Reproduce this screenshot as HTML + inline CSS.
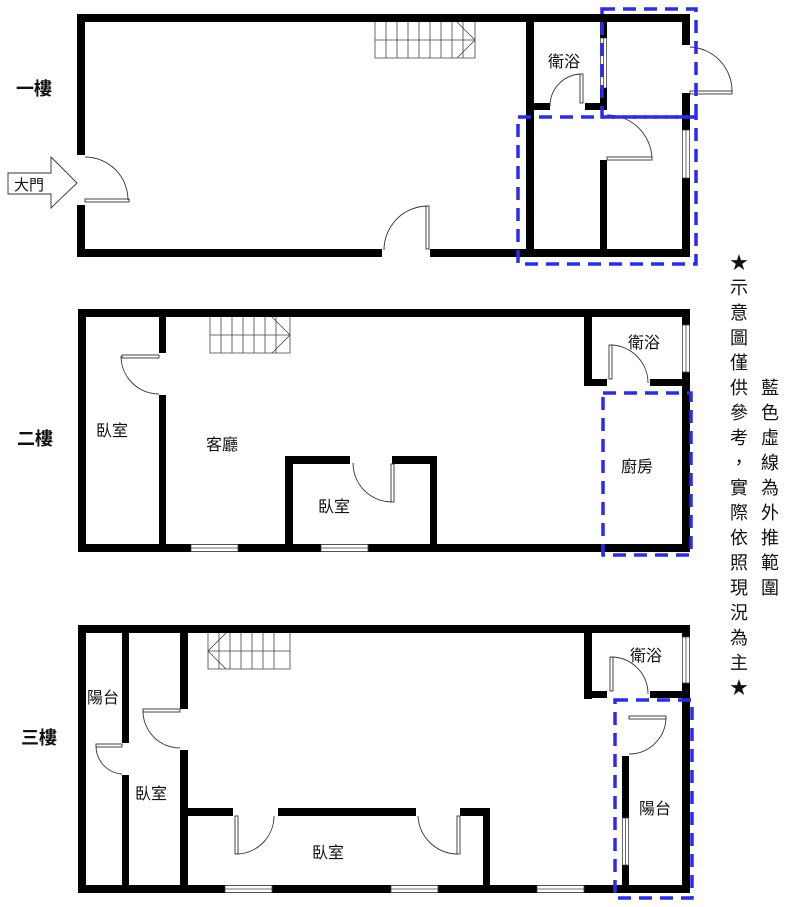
<!DOCTYPE html>
<html><head><meta charset="utf-8"><style>
html,body{margin:0;padding:0;background:#fff;}
svg{display:block;}
text{font-family:"Liberation Sans","Noto Sans CJK TC",sans-serif;fill:#111;}
</style></head><body>
<svg width="800" height="907" viewBox="0 0 800 907" xmlns="http://www.w3.org/2000/svg">
<g fill="#000">
<rect x="77" y="14" width="613" height="8"/>
<rect x="77" y="14" width="8" height="141"/>
<rect x="77" y="205" width="8" height="52"/>
<rect x="77" y="249" width="305" height="8"/>
<rect x="430" y="249" width="260" height="8"/>
<rect x="682" y="14" width="8" height="31"/>
<rect x="682" y="93" width="8" height="37"/>
<rect x="682" y="178" width="8" height="79"/>
<rect x="526" y="14" width="8" height="243"/>
<rect x="533" y="103" width="17" height="7"/>
<rect x="585" y="103" width="22" height="7"/>
<rect x="600" y="14" width="7" height="24"/>
<rect x="600" y="88" width="7" height="22"/>
<rect x="600" y="160" width="7" height="97"/>
<rect x="78" y="309" width="612" height="8"/>
<rect x="78" y="309" width="8" height="243"/>
<rect x="78" y="544" width="612" height="8"/>
<rect x="682" y="309" width="8" height="16"/>
<rect x="682" y="372" width="8" height="180"/>
<rect x="159" y="317" width="7" height="36"/>
<rect x="159" y="395" width="7" height="149"/>
<rect x="285" y="456" width="65" height="8"/>
<rect x="392" y="456" width="45" height="8"/>
<rect x="285" y="456" width="8" height="88"/>
<rect x="430" y="456" width="7" height="88"/>
<rect x="584" y="309" width="8" height="77"/>
<rect x="584" y="379" width="23" height="7"/>
<rect x="650" y="379" width="40" height="7"/>
<rect x="78" y="625" width="612" height="8"/>
<rect x="78" y="625" width="8" height="268"/>
<rect x="78" y="885" width="612" height="8"/>
<rect x="682" y="625" width="8" height="12"/>
<rect x="682" y="683" width="8" height="210"/>
<rect x="122" y="633" width="7" height="110"/>
<rect x="122" y="775" width="7" height="110"/>
<rect x="180" y="633" width="8" height="76"/>
<rect x="180" y="750" width="8" height="135"/>
<rect x="188" y="808" width="45" height="8"/>
<rect x="278" y="808" width="138" height="8"/>
<rect x="460" y="808" width="30" height="8"/>
<rect x="483" y="808" width="7" height="77"/>
<rect x="584" y="625" width="8" height="74"/>
<rect x="584" y="691" width="23" height="7"/>
<rect x="650" y="691" width="40" height="7"/>
<rect x="622" y="756" width="7" height="62"/>
<rect x="622" y="865" width="7" height="20"/>
</g>
<g fill="#fff" stroke="#444" stroke-width="0.8">
<rect x="682.5" y="130" width="7" height="48"/><line x1="686" y1="130" x2="686" y2="178"/>
<rect x="600.5" y="38" width="6" height="50"/><line x1="603.5" y1="38" x2="603.5" y2="88"/>
<rect x="682.5" y="325" width="7" height="47"/><line x1="686" y1="325" x2="686" y2="372"/>
<rect x="191" y="544.5" width="47" height="7"/><line x1="191" y1="548" x2="238" y2="548"/>
<rect x="321" y="544.5" width="47" height="7"/><line x1="321" y1="548" x2="368" y2="548"/>
<rect x="682.5" y="637" width="7" height="46"/><line x1="686" y1="637" x2="686" y2="683"/>
<rect x="622.5" y="818" width="6" height="47"/><line x1="625.5" y1="818" x2="625.5" y2="865"/>
<rect x="225" y="885.5" width="47" height="7"/><line x1="225" y1="889" x2="272" y2="889"/>
<rect x="391" y="885.5" width="47" height="7"/><line x1="391" y1="889" x2="438" y2="889"/>
<rect x="537" y="885.5" width="47" height="7"/><line x1="537" y1="889" x2="584" y2="889"/>
</g>
<g fill="none" stroke="#333" stroke-width="0.9">
<path d="M85,157 A43,43 0 0 1 128,200"/><rect x="85" y="199" width="44" height="3"/>
<path d="M428,206 A44,44 0 0 0 384,250"/><rect x="426" y="206" width="3" height="43"/>
<path d="M581,74 A32,32 0 0 0 550,106"/><rect x="580" y="74" width="3" height="29"/>
<path d="M607,115 A45,45 0 0 1 652,158"/><rect x="607" y="157" width="45" height="3"/>
<path d="M690,47 A44,44 0 0 1 732,92"/><rect x="690" y="91" width="42" height="3"/>
<path d="M121,356 A38,38 0 0 0 159,394"/><rect x="122" y="355" width="37" height="3"/>
<path d="M353,463 A39,39 0 0 0 392,502"/><rect x="391" y="464" width="3" height="38"/>
<path d="M610,345 A38,38 0 0 1 648,383"/><rect x="609" y="345" width="3" height="34"/>
<path d="M96,746 A28,28 0 0 0 122,774"/><rect x="96" y="744" width="26" height="3"/>
<path d="M143,710 A37,37 0 0 0 180,748"/><rect x="143" y="709" width="37" height="3"/>
<path d="M236,854 A38,38 0 0 0 274,816"/><rect x="235" y="816" width="3" height="38"/>
<path d="M418,816 A40,40 0 0 0 458,854"/><rect x="457" y="816" width="3" height="38"/>
<path d="M611,657 A37,37 0 0 1 648,694"/><rect x="610" y="657" width="3" height="34"/>
<path d="M666,717 A37,37 0 0 1 629,754"/><rect x="629" y="716" width="37" height="3"/>
</g>
<g fill="none" stroke="#444" stroke-width="0.8">
<path d="M375,22V58H475V22 M375,40H475 M386,22V58 M397,22V58 M408,22V58 M419,22V58 M430,22V58 M441,22V58 M452,22V58 M463,22V58 M457,22L475,40L457,58"/>
<path d="M210,317V353H290V317 M210,335H290 M221,317V353 M232,317V353 M243,317V353 M254,317V353 M265,317V353 M276,317V353 M272,317L290,335L272,353"/>
<path d="M208,633V669H290V633 M208,651H290 M219,633V669 M230,633V669 M241,633V669 M252,633V669 M263,633V669 M274,633V669 M226,633L208,651L226,669"/>
</g>
<polygon points="8,173 51,173 51,157 77,183 51,208 51,194 8,194" fill="#fff" stroke="#333" stroke-width="0.9"/>
<text x="14" y="190" font-size="15">大門</text>
<g fill="none" stroke="#2a2af0" stroke-width="3.5" stroke-dasharray="13,8">
<rect x="602" y="9" width="94" height="108"/>
<rect x="518" y="117" width="178" height="147"/>
<rect x="603" y="393" width="88" height="162"/>
<rect x="615" y="700" width="77" height="198"/>
</g>
<g font-size="18" font-weight="bold">
<text x="16" y="95">一樓</text>
<text x="17" y="445">二樓</text>
<text x="21" y="744">三樓</text>
</g>
<g font-size="16">
<text x="548" y="67">衛浴</text>
<text x="628" y="348">衛浴</text>
<text x="621" y="472">廚房</text>
<text x="96" y="436">臥室</text>
<text x="206" y="450">客廳</text>
<text x="318" y="512">臥室</text>
<text x="87" y="703">陽台</text>
<text x="135" y="799">臥室</text>
<text x="312" y="858">臥室</text>
<text x="630" y="661">衛浴</text>
<text x="639" y="814">陽台</text>
</g>
<g font-size="18" text-anchor="middle">
<text x="739" y="269">★</text><text x="739" y="294">示</text><text x="739" y="319">意</text><text x="739" y="344">圖</text><text x="739" y="369">僅</text><text x="739" y="394">供</text><text x="739" y="419">參</text><text x="739" y="444">考</text><text x="739" y="469">，</text><text x="739" y="494">實</text><text x="739" y="519">際</text><text x="739" y="544">依</text><text x="739" y="569">照</text><text x="739" y="594">現</text><text x="739" y="619">況</text><text x="739" y="644">為</text><text x="739" y="669">主</text><text x="739" y="694">★</text>
<text x="770" y="394">藍</text><text x="770" y="419">色</text><text x="770" y="444">虛</text><text x="770" y="469">線</text><text x="770" y="494">為</text><text x="770" y="519">外</text><text x="770" y="544">推</text><text x="770" y="569">範</text><text x="770" y="594">圍</text>
</g>
</svg>
</body></html>
